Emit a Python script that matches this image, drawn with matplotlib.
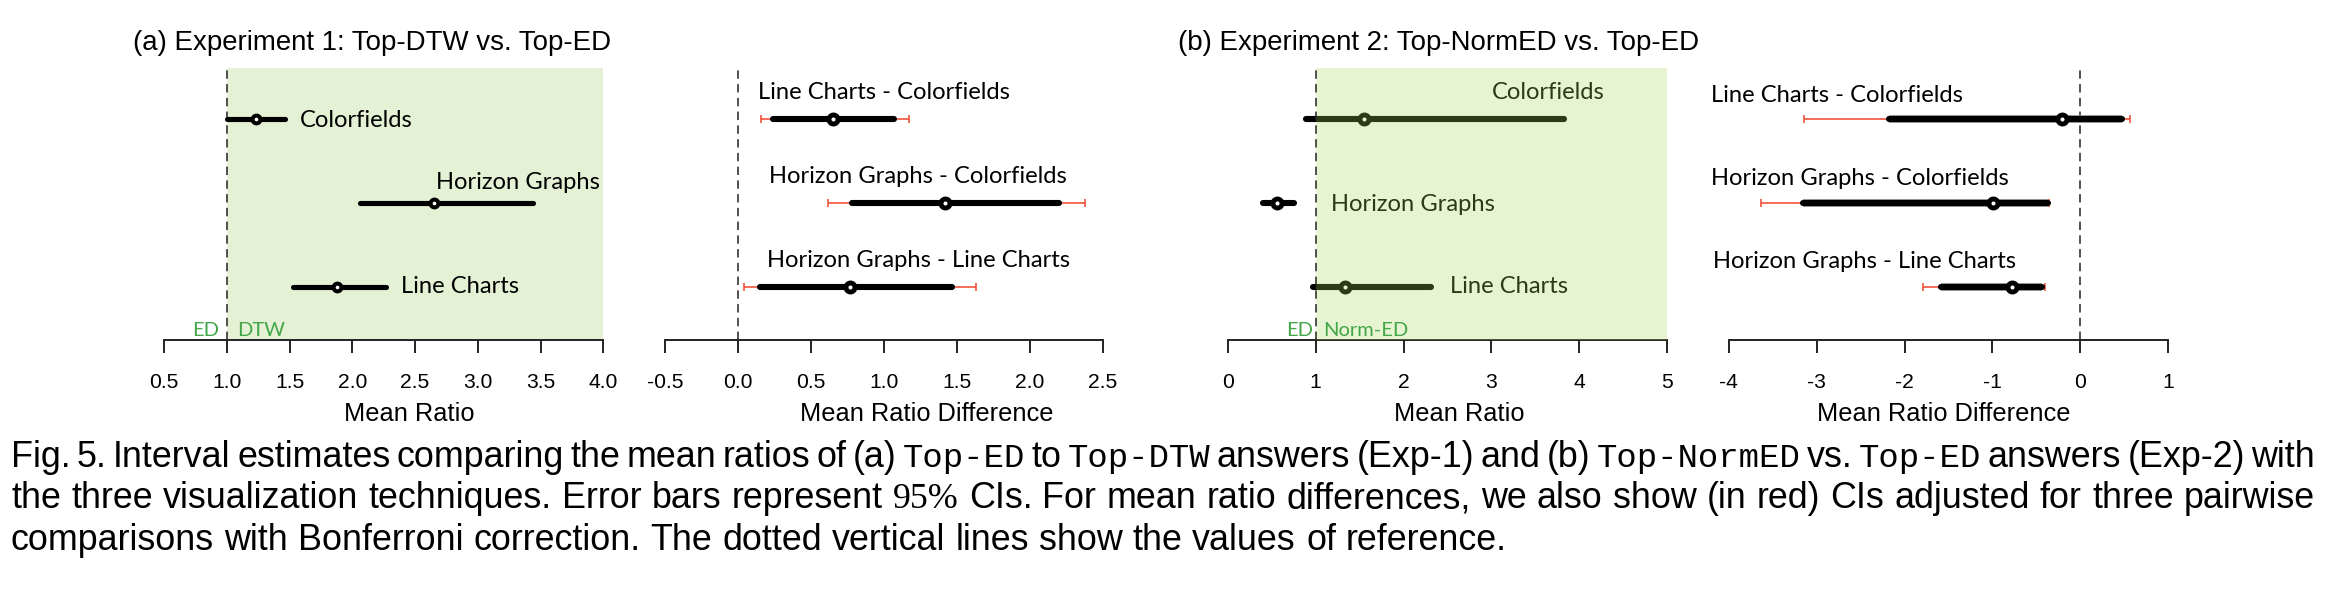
import matplotlib
matplotlib.use("Agg")
import matplotlib.pyplot as plt
from matplotlib.patches import Rectangle

# ---------------- data ----------------
techniques = ["Colorfields", "Horizon Graphs", "Line Charts"]
pairs = ["Line Charts - Colorfields", "Horizon Graphs - Colorfields",
         "Horizon Graphs - Line Charts"]

# Experiment 1: Top-DTW vs. Top-ED (mean ratio, 95% CI)
exp1_mean = [1.23, 2.65, 1.88]
exp1_lo = [1.00, 2.06, 1.53]
exp1_hi = [1.46, 3.44, 2.27]

# Experiment 1: pairwise differences (95% CI and Bonferroni-adjusted CI)
exp1_diff_mean = [0.65, 1.42, 0.77]
exp1_diff_lo = [0.24, 0.78, 0.15]
exp1_diff_hi = [1.07, 2.20, 1.47]
exp1_diff_adj_lo = [0.16, 0.62, 0.04]
exp1_diff_adj_hi = [1.17, 2.38, 1.63]

# Experiment 2: Top-NormED vs. Top-ED
exp2_mean = [1.55, 0.56, 1.33]
exp2_lo = [0.89, 0.40, 0.97]
exp2_hi = [3.83, 0.75, 2.31]

exp2_diff_mean = [-0.21, -0.99, -0.78]
exp2_diff_lo = [-2.18, -3.16, -1.58]
exp2_diff_hi = [0.48, -0.37, -0.43]
exp2_diff_adj_lo = [-3.14, -3.63, -1.79]
exp2_diff_adj_hi = [0.57, -0.36, -0.40]

ticks1 = [0.5, 1.0, 1.5, 2.0, 2.5, 3.0, 3.5, 4.0]
ticklabels1 = ["0.5", "1.0", "1.5", "2.0", "2.5", "3.0", "3.5", "4.0"]
ticks2 = [-0.5, 0.0, 0.5, 1.0, 1.5, 2.0, 2.5]
ticklabels2 = ["-0.5", "0.0", "0.5", "1.0", "1.5", "2.0", "2.5"]
ticks3 = [0, 1, 2, 3, 4, 5]
ticklabels3 = ["0", "1", "2", "3", "4", "5"]
ticks4 = [-4, -3, -2, -1, 0, 1]
ticklabels4 = ["-4", "-3", "-2", "-1", "0", "1"]

title_a = "(a) Experiment 1: Top-DTW vs. Top-ED"
title_b = "(b) Experiment 2: Top-NormED vs. Top-ED"
xlabel_ratio = "Mean Ratio"
xlabel_diff = "Mean Ratio Difference"

caption = [
    [("Fig. 5. Interval estimates comparing the mean ratios of (a)", "s"), ("Top-ED", "m"),
     ("to", "s"), ("Top-DTW", "m"), ("answers (Exp-1) and (b)", "s"), ("Top-NormED", "m"),
     ("vs.", "s"), ("Top-ED", "m"), ("answers (Exp-2) with", "s")],
    [("the three visualization techniques. Error bars represent", "s"), ("95%", "r"),
     ("CIs. For mean ratio differences, we also show (in red) CIs adjusted for three pairwise", "s")],
    [("comparisons with Bonferroni correction. The dotted vertical lines show the values of reference.", "s")],
]

# ---------------- layout / style ----------------
W, H, DPI = 2330, 592, 100
fig = plt.figure(figsize=(W / DPI, H / DPI), dpi=DPI)
fig.patch.set_facecolor("white")
renderer = fig.canvas.get_renderer()

SANS = ["Liberation Sans", "DejaVu Sans"]
LBL = ["Lato", "Open Sans", "DejaVu Sans"]
MONO = ["Liberation Mono", "DejaVu Sans Mono"]
SERIF = ["Liberation Serif", "DejaVu Serif"]
FAM = {"s": SANS, "m": MONO, "r": SERIF}

GREEN_BG = "#e5f1d5"
GREEN_TXT = "#43a649"
RED = "#f0452f"
AXC = "#222222"


def fx(px):
    return px / W


def fy(py):
    return 1 - py / H


def text_width(s, family, size):
    t = fig.text(0, 0, s, family=family, fontsize=size)
    w = t.get_window_extent(renderer).width
    t.remove()
    return w


def fit(s, family, target, base=20.0):
    return base * target / text_width(s, family, base)


LBL_SIZE = fit("Line Charts - Colorfields", LBL, 253)
GREEN_SIZE = fit("Norm-ED", LBL, 85)
TITLE_SIZE = fit(title_a, SANS, 478)
XLAB_SIZE = fit(xlabel_diff, SANS, 251)
TICK_SIZE = 15.2

AX_TOP, AX_BOTTOM = 68, 340
YLIM = (0.369, 3.607)
rows = [3, 2, 1]


def make_ax(x0, x1, xlim, ticks, ticklabels):
    ax = fig.add_axes([fx(x0), fy(AX_BOTTOM), (x1 - x0) / W, (AX_BOTTOM - AX_TOP) / H])
    ax.set_xlim(xlim)
    ax.set_ylim(YLIM)
    for s in ["top", "right", "left"]:
        ax.spines[s].set_visible(False)
    ax.spines["bottom"].set_linewidth(1.4)
    ax.spines["bottom"].set_color(AXC)
    ax.set_yticks([])
    ax.set_xticks(ticks)
    ax.set_xticklabels(ticklabels, family=SANS, fontsize=TICK_SIZE)
    ax.tick_params(axis="x", length=9.4, width=1.4, pad=14, colors=AXC, labelcolor="black")
    ax.patch.set_visible(False)
    return ax


ax1 = make_ax(164.1, 603.3, (0.5, 4.0), ticks1, ticklabels1)
ax2 = make_ax(665.1, 1102.6, (-0.5, 2.5), ticks2, ticklabels2)
ax3 = make_ax(1227.9, 1667.1, (0, 5), ticks3, ticklabels3)
ax4 = make_ax(1728.9, 2168.0, (-4, 1), ticks4, ticklabels4)

DASH = (0, (5.5, 3.5))


def draw_ci(ax, mean, lo, hi, lw, ms, mew, halo=False):
    for y, m, a, b in zip(rows, mean, lo, hi):
        if halo:
            ax.plot([a, b], [y, y], color="#9a9a9a", lw=lw + 1.3, solid_capstyle="butt",
                    zorder=2, clip_on=False)
        ax.plot([a, b], [y, y], color="black", lw=lw, solid_capstyle="round",
                zorder=2.5, clip_on=False)
        ax.plot([m], [y], "o", ms=ms, mfc="white", mec="black", mew=mew,
                zorder=3, clip_on=False)


def draw_adj(ax, mean, lo, hi):
    for y, m, a, b in zip(rows, mean, lo, hi):
        ax.errorbar([m], [y], xerr=[[m - a], [b - m]], fmt="none", ecolor=RED,
                    elinewidth=1.1, capsize=2.6, capthick=1.1, zorder=1.5, clip_on=False)


def labels(ax, names, pos, **kw):
    for s, (x, y) in zip(names, pos):
        ax.text(x, y, s, family=LBL, fontsize=LBL_SIZE, ha="left", va="baseline", **kw)


# Panel 1
ax1.add_patch(Rectangle((1.0, YLIM[0]), 3.0, YLIM[1] - YLIM[0], facecolor=GREEN_BG,
                        lw=0, zorder=0))
ax1.axvline(1.0, ls=DASH, lw=1.1, color=AXC, zorder=1)
draw_ci(ax1, exp1_mean, exp1_lo, exp1_hi, lw=3.7, ms=5.6, mew=2.9)
labels(ax1, techniques, [(1.583, 2.901), (2.667, 2.163), (2.387, 0.925)], zorder=3)
ax1.text(0.937, 0.417, "ED", family=LBL, fontsize=GREEN_SIZE, color=GREEN_TXT,
         ha="right", va="baseline")
ax1.text(1.078, 0.417, "DTW", family=LBL, fontsize=GREEN_SIZE, color=GREEN_TXT,
         ha="left", va="baseline")

# Panel 2
ax2.axvline(0.0, ls=DASH, lw=1.1, color=AXC, zorder=1)
draw_adj(ax2, exp1_diff_mean, exp1_diff_adj_lo, exp1_diff_adj_hi)
draw_ci(ax2, exp1_diff_mean, exp1_diff_lo, exp1_diff_hi, lw=4.4, ms=6.5, mew=3.5)
labels(ax2, pairs, [(0.135, 3.235), (0.212, 2.242), (0.198, 1.242)], zorder=3)

# Panel 3 (translucent green drawn on top of marks)
draw_ci(ax3, exp2_mean, exp2_lo, exp2_hi, lw=4.4, ms=6.5, mew=3.5)
labels(ax3, techniques, [(3.008, 3.235), (1.179, 1.908), (2.528, 0.925)], zorder=3)
ax3.add_patch(Rectangle((1.0, YLIM[0]), 4.0, YLIM[1] - YLIM[0], facecolor="#a3d755",
                        alpha=0.27, lw=0, zorder=4))
ax3.axvline(1.0, ls=DASH, lw=1.1, color=AXC, zorder=5)
ax3.text(0.975, 0.417, "ED", family=LBL, fontsize=GREEN_SIZE, color=GREEN_TXT,
         ha="right", va="baseline", zorder=6)
ax3.text(1.087, 0.417, "Norm-ED", family=LBL, fontsize=GREEN_SIZE, color=GREEN_TXT,
         ha="left", va="baseline", zorder=6)

# Panel 4
ax4.axvline(0.0, ls=DASH, lw=1.1, color=AXC, zorder=1)
draw_adj(ax4, exp2_diff_mean, exp2_diff_adj_lo, exp2_diff_adj_hi)
draw_ci(ax4, exp2_diff_mean, exp2_diff_lo, exp2_diff_hi, lw=4.4, ms=6.5, mew=3.5, halo=True)
labels(ax4, pairs, [(-4.206, 3.206), (-4.206, 2.214), (-4.183, 1.222)], zorder=3)

# Titles and axis labels
fig.text(fx(133), fy(49.5), title_a, family=SANS, fontsize=TITLE_SIZE, ha="left", va="baseline")
fig.text(fx(1178), fy(49.5), title_b, family=SANS, fontsize=TITLE_SIZE, ha="left", va="baseline")
for cx, s in [(409, xlabel_ratio), (927, xlabel_diff), (1459, xlabel_ratio), (1943.5, xlabel_diff)]:
    fig.text(fx(cx), fy(420.7), s, family=SANS, fontsize=XLAB_SIZE, ha="center", va="baseline")

# Caption (lines 1-2 justified)
CAP_SIZE = fit(caption[2][0][0], SANS, 1493)
CAP_SIZES = {"s": CAP_SIZE, "m": CAP_SIZE * 0.95, "r": CAP_SIZE}
CAP_LEFT, CAP_RIGHT = 11, 2315
cap_base = [467, 508.5, 550]
space_w = text_width("a a", SANS, CAP_SIZE) - text_width("aa", SANS, CAP_SIZE)
for i, line in enumerate(caption):
    toks = []
    for seg, f in line:
        for wd in seg.split(" "):
            toks.append((wd, f))
    widths = [text_width(t, FAM[f], CAP_SIZES[f]) for t, f in toks]
    if i < len(caption) - 1:
        gap = (CAP_RIGHT - CAP_LEFT - sum(widths)) / (len(toks) - 1)
    else:
        gap = space_w
    x = CAP_LEFT
    for (t, f), w in zip(toks, widths):
        fig.text(fx(x), fy(cap_base[i]), t, family=FAM[f], fontsize=CAP_SIZES[f],
                 ha="left", va="baseline")
        x += w + gap

fig.savefig("out.png", dpi=DPI, facecolor="white")
